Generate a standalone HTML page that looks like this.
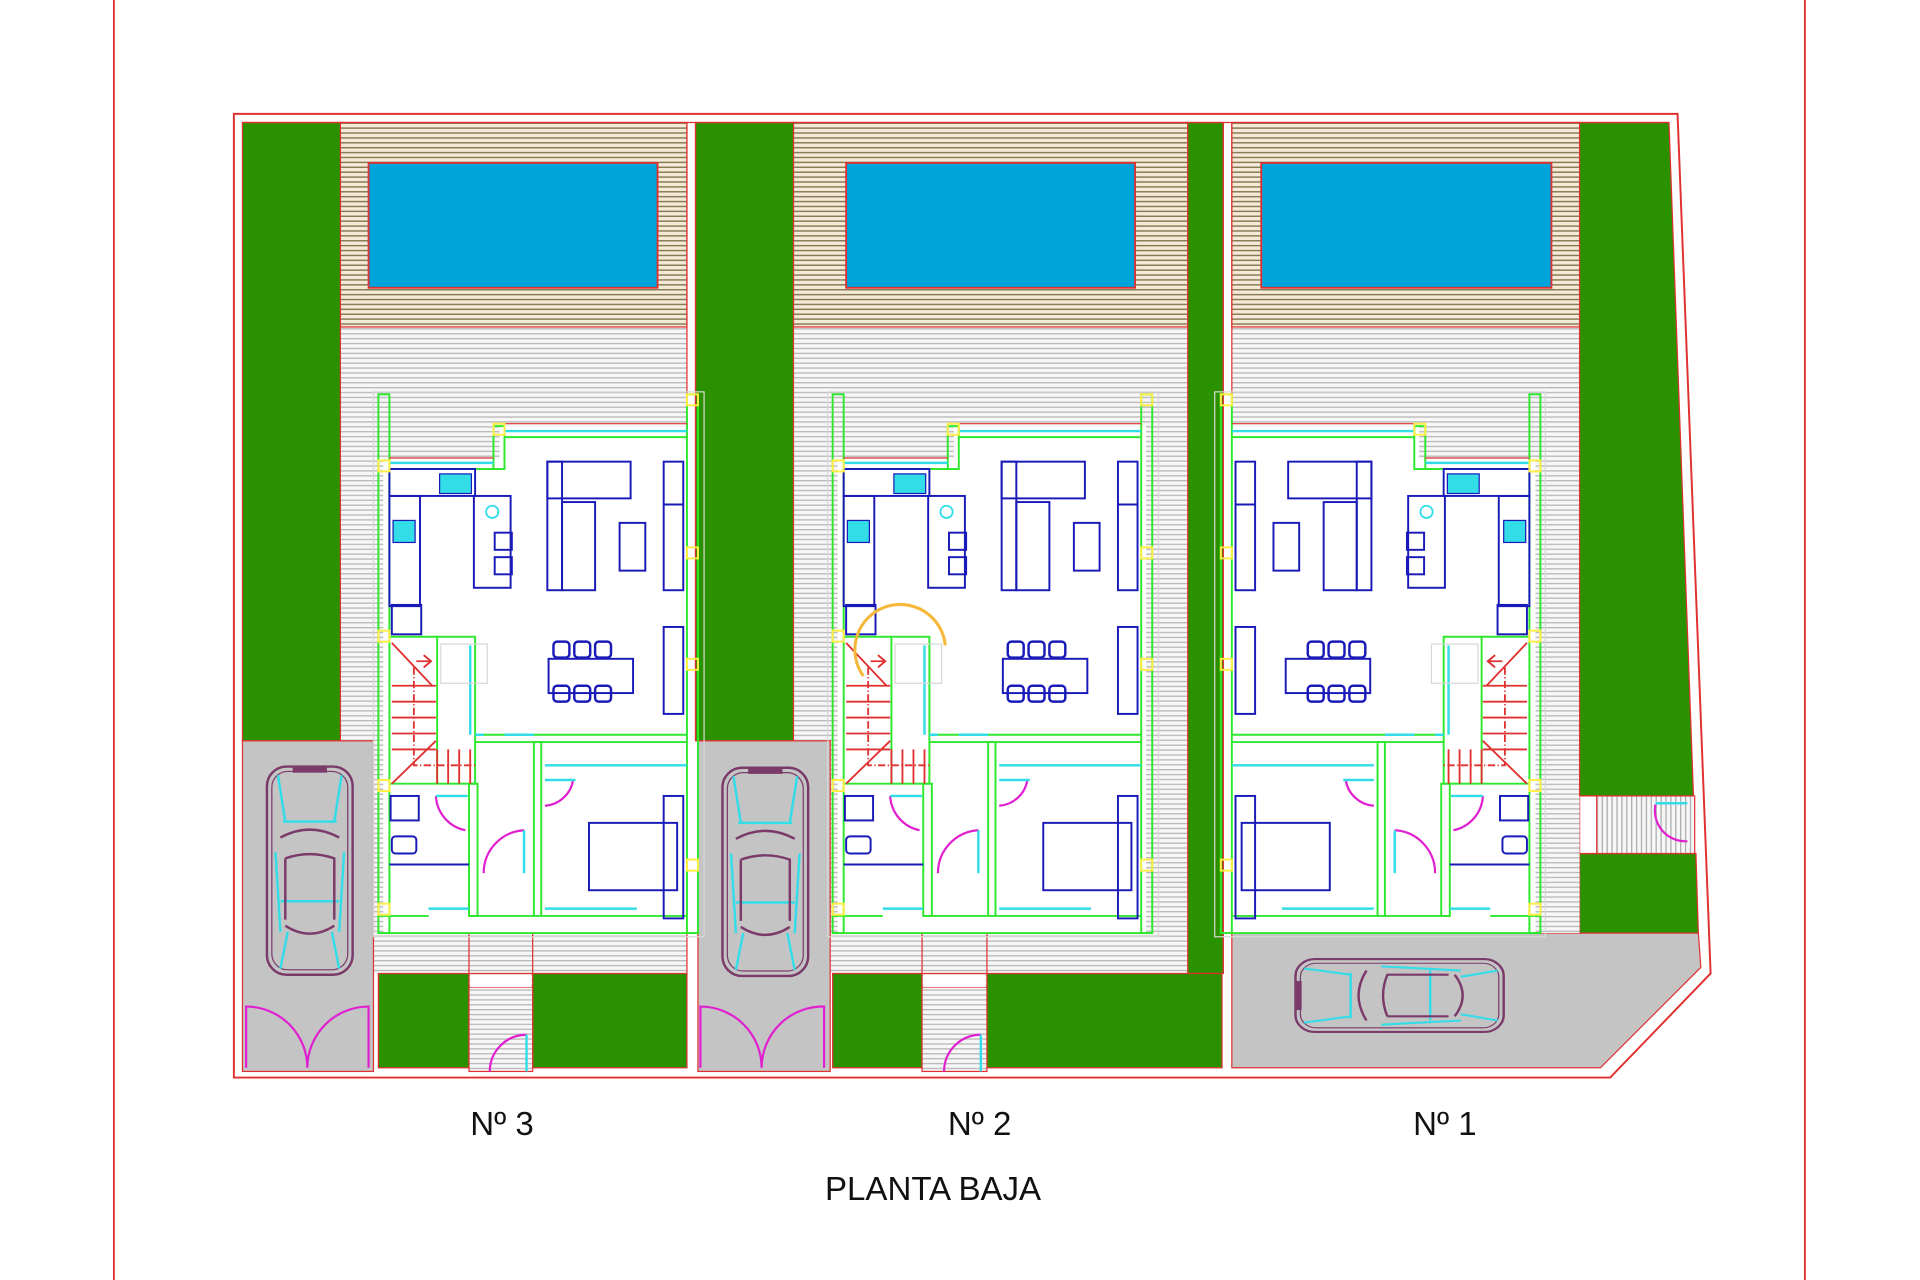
<!DOCTYPE html>
<html><head><meta charset="utf-8"><style>
html,body{margin:0;padding:0;background:#fff;}
svg{display:block;}
text{font-family:"Liberation Sans",sans-serif;}
</style></head><body>
<svg width="1920" height="1280" viewBox="0 0 1568 1045.3" xmlns="http://www.w3.org/2000/svg">
<defs>
<pattern id="deck" width="10" height="4" patternUnits="userSpaceOnUse"><rect width="10" height="4" fill="#f4ead8"/><rect y="0" width="10" height="1.2" fill="#8a7a55"/></pattern>
<pattern id="grey" width="10" height="4" patternUnits="userSpaceOnUse"><rect width="10" height="4" fill="#f7f7f7"/><rect y="0" width="10" height="1.1" fill="#b9b9b9"/></pattern>
<pattern id="vgrey" width="4" height="10" patternUnits="userSpaceOnUse"><rect width="4" height="10" fill="#f7f7f7"/><rect width="1.1" height="10" fill="#b0b0b0"/></pattern>

<g id="car">
 <rect x="-35" y="-85" width="70" height="170" rx="16" fill="none" stroke="#7a3a6a" stroke-width="2"/>
 <rect x="-31" y="-81" width="62" height="162" rx="13" fill="none" stroke="#7a3a6a" stroke-width="1"/>
 <path d="M-26,-78 L-20,-40 M26,-78 L20,-40 M-22,-40 L22,-40 M-28,-15 L-24,50 M28,-15 L24,50 M-24,25 L24,25 M-24,80 L-18,50 M24,80 L18,50" stroke="#33dde8" stroke-width="2" fill="none"/>
 <path d="M-24,-27 Q0,-40 24,-27 M-20,-10 Q0,-17 20,-10 L20,40 M-20,-10 L-20,40 M-20,45 Q0,58 20,45" stroke="#7a3a6a" stroke-width="2" fill="none"/>
 <rect x="-14" y="-85" width="28" height="5" fill="#7a3a6a"/>
</g>

<g id="house">
 <rect x="305" y="320" width="270" height="445" fill="none" stroke="#d8d8d8" stroke-width="1"/>
 <polygon points="313,375 408,375 408,348 565,348 565,762 313,762" fill="#fff"/>
 <g stroke="#2ee82e" stroke-width="1.6" fill="none">
  <rect x="309" y="322" width="9" height="440"/>
  <rect x="561" y="322" width="9" height="440"/>
  <rect x="403" y="348" width="9" height="35"/>
  <path d="M318,383 H403 M412,357 H561"/>
  <path d="M309,762 H570 M309,748 H350 M383,748 H436 M442,748 H561"/>
  <path d="M388,600 H561 M388,606 H561"/>
  <rect x="436" y="606" width="6" height="142"/>
  <rect x="383" y="640" width="7" height="108"/>
  <rect x="357" y="520" width="31" height="120"/>
  <path d="M318,520 H357 M318,640 H357"/>
 </g>
 <g stroke="#33dde8" stroke-width="2" fill="none">
  <path d="M318,378 H403 M412,352 H561 M350,742 H383 M445,742 H520 M445,625 H561 M412,600 H436 M388,600 H395"/>
  <path d="M384,527 V600"/>
 </g>
 <path d="M318,374 H403 M412,346 H561" stroke="#e23030" stroke-width="1" fill="none"/>
 <g stroke="#e03030" stroke-width="1.5" fill="none">
  <path d="M320,560 H356 M320,573 H356 M320,586 H356 M320,599 H356 M320,612 H356"/>
  <path d="M357,612 V640 M366,612 V640 M375,612 V640 M384,612 V640"/>
  <path d="M320,525 L353,560 M320,640 L356,605"/>
  <path d="M340,540 H352 M346,535 L352,540 L346,545" />
  <path d="M338,545 V625 H388" stroke-dasharray="6,2,1,2"/>
 </g>
 <rect x="360" y="526" width="38" height="32" fill="none" stroke="#d8d8d8"/>
 <g stroke="#1a1ab8" stroke-width="1.6" fill="none">
  <rect x="318" y="383" width="70" height="22"/>
  <rect x="318" y="405" width="25" height="90"/>
  <rect x="320" y="494" width="24" height="24"/>
  <rect x="387" y="405" width="30" height="75"/>
  <rect x="404" y="435" width="14" height="14"/>
  <rect x="404" y="455" width="14" height="14"/>
  <rect x="447" y="377" width="68" height="30"/>
  <rect x="447" y="377" width="12" height="105"/>
  <rect x="459" y="410" width="27" height="72"/>
  <rect x="506" y="427" width="21" height="39"/>
  <rect x="542" y="377" width="16" height="105"/>
  <path d="M542,412 H558"/>
  <rect x="448" y="538" width="69" height="28"/>
  <rect x="542" y="512" width="16" height="71"/>
  <rect x="481" y="672" width="72" height="55"/>
  <rect x="542" y="650" width="16" height="100"/>
  <rect x="319" y="650" width="23" height="20"/>
  <rect x="320" y="683" width="20" height="14" rx="3"/>
  <path d="M318,706 H383"/>
 </g>
 <g stroke="#1a1ab8" stroke-width="2" fill="none">
  <rect x="452" y="524" width="13" height="13" rx="3"/><rect x="469" y="524" width="13" height="13" rx="3"/><rect x="486" y="524" width="13" height="13" rx="3"/>
  <rect x="452" y="560" width="13" height="13" rx="3"/><rect x="469" y="560" width="13" height="13" rx="3"/><rect x="486" y="560" width="13" height="13" rx="3"/>
 </g>
 <rect x="359" y="387" width="26" height="16" fill="#33dde8" stroke="#1a1ab8"/>
 <rect x="321" y="425" width="18" height="18" fill="#33dde8" stroke="#1a1ab8"/>
 <circle cx="402" cy="418" r="5" fill="none" stroke="#33dde8" stroke-width="1.5"/>
 <g stroke="#e020d0" stroke-width="1.8" fill="none">
  <path d="M356,650 A30,30 0 0,0 380,678"/>
  <path d="M395,713 A35,35 0 0,1 428,678"/>
  <path d="M445,658 A25,25 0 0,0 468,637"/>
 </g>
 <g stroke="#33dde8" stroke-width="2"><path d="M356,650 H382 M445,637 H470 M428,678 V713"/></g>
 <g fill="none" stroke="#ffee44" stroke-width="1.6">
  <rect x="309" y="376" width="9" height="9"/><rect x="403" y="346" width="9" height="9"/><rect x="561" y="322" width="9" height="9"/>
  <rect x="309" y="515" width="9" height="9"/><rect x="309" y="637" width="9" height="9"/><rect x="309" y="738" width="9" height="9"/>
  <rect x="561" y="447" width="9" height="9"/><rect x="561" y="538" width="9" height="9"/><rect x="561" y="702" width="9" height="9"/>
 </g>
</g>
<g id="fdoor">
 <path d="M400,875 A30,30 0 0,1 430,845" stroke="#e020d0" stroke-width="1.8" fill="none"/>
 <path d="M430,845 V875" stroke="#33dde8" stroke-width="2"/>
</g>
</defs>

<rect width="1568" height="1046" fill="#fff"/>
<path d="M93,0 V1046 M1474,0 V1046" stroke="#e03030" stroke-width="1.5"/>

<polygon points="191,93 1370,93 1397,795 1315,880 191,880" fill="none" stroke="#e03030" stroke-width="1.6"/>

<rect x="278" y="267" width="283" height="528" fill="url(#grey)"/>
<rect x="648" y="267" width="322" height="528" fill="url(#grey)"/>
<rect x="1006" y="267" width="284" height="496" fill="url(#grey)"/>
<rect x="278" y="100" width="283" height="167" fill="url(#deck)" stroke="#e03030" stroke-width="1"/>
<rect x="648" y="100" width="322" height="167" fill="url(#deck)" stroke="#e03030" stroke-width="1"/>
<rect x="1006" y="100" width="284" height="167" fill="url(#deck)" stroke="#e03030" stroke-width="1"/>
<rect x="301" y="133" width="236" height="102" fill="#00a3da" stroke="#e03030" stroke-width="1.5"/>
<rect x="691" y="133" width="236" height="102" fill="#00a3da" stroke="#e03030" stroke-width="1.5"/>
<rect x="1030" y="133" width="237" height="102" fill="#00a3da" stroke="#e03030" stroke-width="1.5"/>

<g fill="#2a9200" stroke="#e03030" stroke-width="1">
<rect x="198" y="100" width="80" height="505"/>
<rect x="568" y="100" width="80" height="505"/>
<rect x="970" y="100" width="29" height="695"/>
<polygon points="1290,100 1363,100 1383,650 1290,650"/>
<polygon points="1290,697 1385,697 1387,762 1290,762"/>
<rect x="309" y="795" width="74" height="77"/>
<rect x="435" y="795" width="126" height="77"/>
<rect x="680" y="795" width="73" height="77"/>
<rect x="806" y="795" width="192" height="77"/>
</g>
<rect x="1290" y="650" width="94" height="47" fill="url(#vgrey)" stroke="#e03030"/>
<rect x="1290" y="650" width="14" height="47" fill="#fff" stroke="#e03030"/>
<path d="M1352,657 A25,25 0 0,0 1378,687" stroke="#e020d0" stroke-width="1.8" fill="none"/>
<path d="M1352,656 H1378" stroke="#33dde8" stroke-width="2"/>
<path d="M561,100 V795 M568,100 V605 M999,100 V795 M1006,100 V762" stroke="#e03030" stroke-width="1"/>
<path d="M198,100 H1363" stroke="#e03030" stroke-width="1"/>

<rect x="198" y="605" width="107" height="270" fill="#c4c4c4" stroke="#e03030" stroke-width="1"/>
<rect x="570" y="605" width="108" height="270" fill="#c4c4c4" stroke="#e03030" stroke-width="1"/>
<polygon points="1006,762 1387,762 1389,790 1307,872 1006,872" fill="#c4c4c4" stroke="#e03030" stroke-width="1"/>
<rect x="383" y="750" width="52" height="125" fill="url(#grey)" stroke="#e03030" stroke-width="1"/>
<rect x="753" y="750" width="53" height="125" fill="url(#grey)" stroke="#e03030" stroke-width="1"/>
<path d="M383,795 H435 M383,806 H435 M753,795 H806 M753,806 H806" stroke="#e03030"/>
<rect x="384" y="796" width="50" height="10" fill="#fff"/>
<rect x="754" y="796" width="51" height="10" fill="#fff"/>
<rect x="1234" y="650" width="56" height="112" fill="url(#grey)"/>

<g stroke="#e020d0" stroke-width="1.8" fill="none">
<path d="M201,872 V822 A50,50 0 0,1 251,872 A50,50 0 0,1 301,822 V872"/>
<path d="M572,872 V822 A50,50 0 0,1 622,872 A50,50 0 0,1 673,822 V872"/>
</g>

<use href="#house"/>
<use href="#house" transform="translate(371,0)"/>
<use href="#house" transform="translate(1567,0) scale(-1,1)"/>
<use href="#fdoor"/>
<use href="#fdoor" transform="translate(371,0)"/>

<use href="#car" transform="translate(253,711)"/>
<use href="#car" transform="translate(625,712)"/>
<use href="#car" transform="translate(1143,813) rotate(-90) scale(0.85,1)"/>

<path d="M705,552 A37,37 0 1,1 772,527" stroke="#f5b83a" stroke-width="2.5" fill="none"/>

<text x="410" y="927" font-size="27" text-anchor="middle" fill="#111">Nº 3</text>
<text x="800" y="927" font-size="27" text-anchor="middle" fill="#111">Nº 2</text>
<text x="1180" y="927" font-size="27" text-anchor="middle" fill="#111">Nº 1</text>
<text x="762" y="980" font-size="27" text-anchor="middle" fill="#111">PLANTA BAJA</text>
</svg>
</body></html>
